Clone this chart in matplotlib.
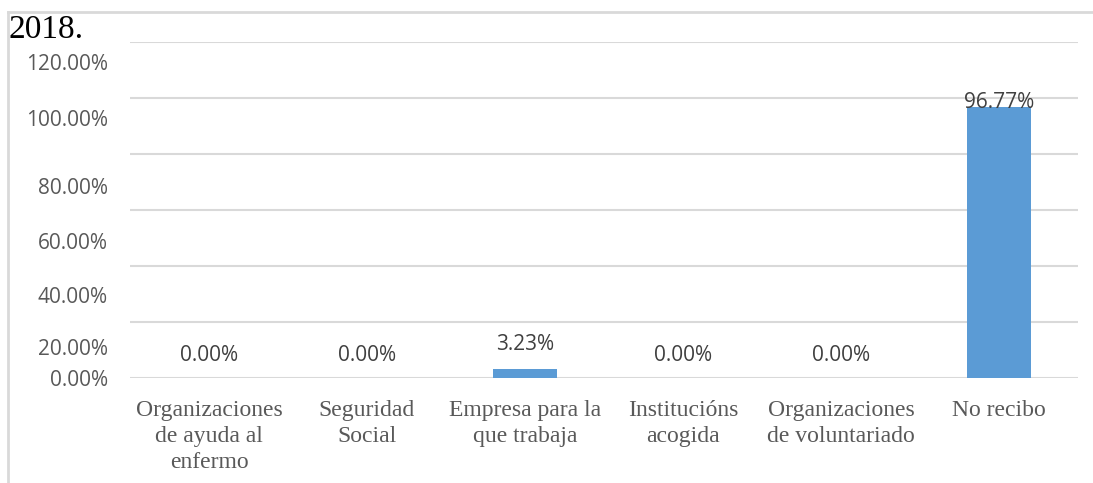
import matplotlib
matplotlib.use('Agg')
import matplotlib.pyplot as plt
from matplotlib.lines import Line2D

categories = ['Organizaciones\nde ayuda al\nenfermo', 'Seguridad\nSocial',
              'Empresa para la\nque trabaja', 'Institucións\nacogida',
              'Organizaciones\nde voluntariado', 'No recibo']
values = [0.0, 0.0, 3.23, 0.0, 0.0, 96.77]
value_labels = ['0.00%', '0.00%', '3.23%', '0.00%', '0.00%', '96.77%']
grid_values = [0, 20, 40, 60, 80, 100, 120]
tick_labels = ['0.00%', '20.00%', '40.00%', '60.00%', '80.00%', '100.00%', '120.00%']
# where the exported labels actually sit (they drift off their gridlines)
tick_label_pos = [0, 11.1, 29.6, 48.9, 68.6, 93.0, 112.7]

label_offsets = [16.5, 16.5, 17.5, 16.5, 16.5, 3.2]

fig = plt.figure(figsize=(10.93, 4.83), dpi=100)
ax = fig.add_axes([130 / 1093, 1 - 378 / 483, 948 / 1093, 336 / 483])

x = list(range(len(categories)))
ax.hlines(grid_values, -0.5, len(categories) - 0.5, color='#d9d9d9', lw=1.5, zorder=0)
ax.bar(x, values, width=0.405, color='#5B9BD5', zorder=2)

for xi, v, lab, off in zip(x, values, value_labels, label_offsets):
    ax.annotate(lab, (xi, v), xytext=(0, off), textcoords='offset points',
                ha='center', va='center', fontsize=15, color='#404040',
                family='Open Sans')

ax.set_xlim(-0.5, len(categories) - 0.5)
ax.set_ylim(0, 120)
ax.set_yticks(tick_label_pos, tick_labels)
ax.set_xticks(x, categories)
ax.tick_params(axis='y', length=0, pad=16, labelsize=15, labelcolor='#595959')
ax.tick_params(axis='x', length=0, pad=16, labelsize=17, labelcolor='#595959')
for t in ax.get_yticklabels():
    t.set_family('Open Sans')
for t in ax.get_xticklabels():
    t.set_family('Liberation Serif')
    t.set_linespacing(1.32)
for s in ax.spines.values():
    s.set_visible(False)

fig.text(8 / 1093, 1 - 38 / 483, '2018.', fontsize=24, family='Liberation Serif',
         color='black', ha='left', va='baseline')

fig.add_artist(Line2D([8 / 1093, 1], [1 - 12 / 483] * 2, color='#d9d9d9', lw=2))
fig.add_artist(Line2D([8 / 1093] * 2, [0, 1 - 12 / 483], color='#d9d9d9', lw=2))

fig.savefig('out.png', dpi=100, facecolor='white')
